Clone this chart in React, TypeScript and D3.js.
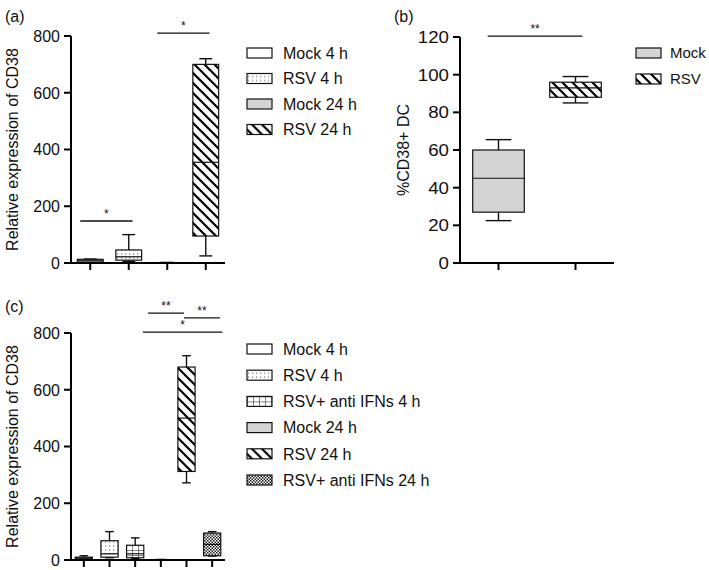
import React from "react";
import * as d3 from "d3";

// ---------- Panel (a) ----------
const aCategories = ["Mock 4 h", "RSV 4 h", "Mock 24 h", "RSV 24 h"];
const aFills = ["white", "dots", "gray", "hatch"];
const aMin = [2, 6, 0, 25];
const aQ1 = [3, 10, 0.5, 95];
const aMedian = [8, 22, 1, 355];
const aQ3 = [13, 46, 1.5, 700];
const aMax = [14, 100, 2, 720];
const aTicks = [0, 200, 400, 600, 800];
const aBrackets = [
  { from: -0.26, to: 1.1, y: 148, label: "*" },
  { from: 1.74, to: 3.1, y: 810, label: "*" },
];

// ---------- Panel (b) ----------
const bCategories = ["Mock", "RSV"];
const bFills = ["gray", "hatch"];
const bMin = [22.5, 85];
const bQ1 = [27, 88];
const bMedian = [45, 93];
const bQ3 = [60, 96];
const bMax = [65.5, 99];
const bTicks = [0, 20, 40, 60, 80, 100, 120];
const bBrackets = [{ from: -0.14, to: 1.09, y: 120.5, label: "**" }];

// ---------- Panel (c) ----------
const cCategories = [
  "Mock 4 h",
  "RSV 4 h",
  "RSV+ anti IFNs 4 h",
  "Mock 24 h",
  "RSV 24 h",
  "RSV+ anti IFNs 24 h",
];
const cFills = ["white", "dots", "grid", "gray", "hatch", "checker"];
const cMin = [2, 8, 6, 0, 272, 14];
const cQ1 = [4, 10, 8, 0.5, 312, 15];
const cMedian = [7, 22, 22, 1, 500, 55];
const cQ3 = [10, 68, 52, 1.5, 680, 95];
const cMax = [15, 100, 78, 2, 720, 100];
const cTicks = [0, 200, 400, 600, 800];
const cBrackets = [
  { from: 2.5, to: 3.9, y: 870, label: "**" },
  { from: 3.9, to: 5.3, y: 853, label: "**" },
  { from: 2.3, to: 5.4, y: 803, label: "*" },
];

const FONT = "Liberation Sans, Arial, Helvetica, sans-serif";

function fillOf(kind: string) {
  switch (kind) {
    case "white":
      return "white";
    case "gray":
      return "#d4d4d4";
    case "dots":
      return "url(#pDots)";
    case "grid":
      return "url(#pGrid)";
    case "hatch":
      return "url(#pHatch)";
    case "checker":
      return "url(#pChecker)";
  }
  return "white";
}

type PanelProps = {
  cats: string[];
  fills: string[];
  min: number[];
  q1: number[];
  med: number[];
  q3: number[];
  max: number[];
  ticks: number[];
  domainMax: number;
  x0: number;
  x1: number;
  yBottom: number;
  yTop: number;
  brackets: { from: number; to: number; y: number; label: string }[];
  yLabel: string;
  yLabelX: number;
  tickFont: number;
  tickStretch: number;
};

function BoxPanel(p: PanelProps) {
  const x = d3.scalePoint<string>().domain(p.cats).range([p.x0, p.x1]).padding(0.5);
  const y = d3.scaleLinear().domain([0, p.domainMax]).range([p.yBottom, p.yTop]);
  const step = x.step();
  const bw = step * 0.67;
  const cap = bw * 0.5;
  const pos = (f: number) => (x(p.cats[0]) as number) + f * step;
  return (
    <g>
      {p.cats.map((c, i) => {
        const cx = x(c) as number;
        return (
          <g key={c}>
            <line x1={cx} x2={cx} y1={y(p.max[i])} y2={y(p.q3[i])} stroke="#111" strokeWidth={1.4} />
            <line x1={cx} x2={cx} y1={y(p.q1[i])} y2={y(p.min[i])} stroke="#111" strokeWidth={1.4} />
            <line x1={cx - cap / 2} x2={cx + cap / 2} y1={y(p.max[i])} y2={y(p.max[i])} stroke="#111" strokeWidth={1.4} />
            <line x1={cx - cap / 2} x2={cx + cap / 2} y1={y(p.min[i])} y2={y(p.min[i])} stroke="#111" strokeWidth={1.4} />
            <rect
              x={cx - bw / 2}
              y={y(p.q3[i])}
              width={bw}
              height={Math.max(0.5, y(p.q1[i]) - y(p.q3[i]))}
              fill={fillOf(p.fills[i])}
              stroke="#111"
              strokeWidth={1.2}
            />
            <line x1={cx - bw / 2} x2={cx + bw / 2} y1={y(p.med[i])} y2={y(p.med[i])} stroke="#111" strokeWidth={1.2} />
          </g>
        );
      })}
      <line x1={p.x0} x2={p.x0} y1={y(0) + 1} y2={y(p.domainMax)} stroke="#000" strokeWidth={2} />
      {p.ticks.map((t) => (
        <g key={t}>
          <line x1={p.x0 - 7} x2={p.x0} y1={y(t)} y2={y(t)} stroke="#000" strokeWidth={2} />
          <text
            transform={`translate(${p.x0 - 11},${y(t)}) scale(${p.tickStretch},1)`}
            dy="0.36em"
            textAnchor="end"
            fontSize={p.tickFont}
            fontFamily={FONT}
            fill="#111"
          >
            {t}
          </text>
        </g>
      ))}
      <line x1={p.x0 - 1} x2={p.x1} y1={y(0)} y2={y(0)} stroke="#000" strokeWidth={2} />
      {p.cats.map((c) => (
        <line key={c} x1={x(c) as number} x2={x(c) as number} y1={y(0)} y2={y(0) + 7} stroke="#000" strokeWidth={2} />
      ))}
      {p.brackets.map((b, i) => (
        <g key={i}>
          <line x1={pos(b.from)} x2={pos(b.to)} y1={y(b.y)} y2={y(b.y)} stroke="#111" strokeWidth={1.3} />
          <text
            x={(pos(b.from) + pos(b.to)) / 2}
            y={y(b.y) - 3}
            textAnchor="middle"
            fontSize={12}
            fontFamily={FONT}
            fill="#111"
          >
            {b.label}
          </text>
        </g>
      ))}
      <text
        transform={`translate(${p.yLabelX},${(p.yBottom + p.yTop) / 2}) rotate(-90)`}
        textAnchor="middle"
        fontSize={16}
        fontFamily={FONT}
        fill="#111"
      >
        {p.yLabel}
      </text>
    </g>
  );
}

function Legend({
  items,
  fills,
  x,
  y,
  gap,
  fontSize,
  textGap,
}: {
  items: string[];
  fills: string[];
  x: number;
  y: number;
  gap: number;
  fontSize: number;
  textGap: number;
}) {
  return (
    <g>
      {items.map((it, i) => (
        <g key={it} transform={`translate(${x},${y + i * gap})`}>
          <rect x={0} y={-5} width={25} height={10} fill={fillOf(fills[i])} stroke="#111" strokeWidth={1.2} />
          <text x={textGap} y={0} dy="0.36em" fontSize={fontSize} fontFamily={FONT} fill="#111">
            {it}
          </text>
        </g>
      ))}
    </g>
  );
}

export default function App() {
  return (
    <svg width={709} height={570} style={{ position: "absolute", left: 0, top: 0, background: "white" }}>
      <defs>
        <pattern id="pHatch" patternUnits="userSpaceOnUse" width={10} height={10}>
          <rect width={10} height={10} fill="white" />
          <path d="M-1,-1 L11,11 M-6,4 L6,16 M4,-6 L16,6" stroke="#000" strokeWidth={2.2} />
        </pattern>
        <pattern id="pDots" patternUnits="userSpaceOnUse" width={4} height={4}>
          <rect width={4} height={4} fill="white" />
          <rect x={1} y={1.5} width={1.2} height={1} fill="#555" />
        </pattern>
        <pattern id="pGrid" patternUnits="userSpaceOnUse" width={6} height={5}>
          <rect width={6} height={5} fill="white" />
          <path d="M0,0 L0,5 M0,0 L6,0" stroke="#111" strokeWidth={1} />
        </pattern>
        <pattern id="pChecker" patternUnits="userSpaceOnUse" width={3} height={3}>
          <rect width={3} height={3} fill="white" />
          <rect x={0} y={0} width={1.5} height={1.5} fill="#222" />
          <rect x={1.5} y={1.5} width={1.5} height={1.5} fill="#222" />
        </pattern>
      </defs>

      <text x={5} y={22} fontSize={16} fontFamily={FONT} fill="#111">(a)</text>
      <text x={394} y={22} fontSize={16} fontFamily={FONT} fill="#111">(b)</text>
      <text x={5} y={312} fontSize={16} fontFamily={FONT} fill="#111">(c)</text>

      <BoxPanel
        cats={aCategories}
        fills={aFills}
        min={aMin}
        q1={aQ1}
        med={aMedian}
        q3={aQ3}
        max={aMax}
        ticks={aTicks}
        domainMax={800}
        x0={71}
        x1={225}
        yBottom={263}
        yTop={36}
        brackets={aBrackets}
        yLabel="Relative expression of CD38"
        yLabelX={18}
        tickFont={16}
        tickStretch={1}
      />
      <BoxPanel
        cats={bCategories}
        fills={bFills}
        min={bMin}
        q1={bQ1}
        med={bMedian}
        q3={bQ3}
        max={bMax}
        ticks={bTicks}
        domainMax={120}
        x0={460}
        x1={614}
        yBottom={263}
        yTop={37}
        brackets={bBrackets}
        yLabel="%CD38+ DC"
        yLabelX={409}
        tickFont={17}
        tickStretch={1.1}
      />
      <BoxPanel
        cats={cCategories}
        fills={cFills}
        min={cMin}
        q1={cQ1}
        med={cMedian}
        q3={cQ3}
        max={cMax}
        ticks={cTicks}
        domainMax={800}
        x0={71}
        x1={225}
        yBottom={560}
        yTop={333}
        brackets={cBrackets}
        yLabel="Relative expression of CD38"
        yLabelX={18}
        tickFont={16}
        tickStretch={1}
      />

      <Legend items={aCategories} fills={aFills} x={247} y={53} gap={25.5} fontSize={16} textGap={36} />
      <Legend items={bCategories} fills={bFills} x={636} y={53} gap={26} fontSize={15} textGap={34} />
      <Legend items={cCategories} fills={cFills} x={247} y={349} gap={26.2} fontSize={16} textGap={36} />
    </svg>
  );
}
